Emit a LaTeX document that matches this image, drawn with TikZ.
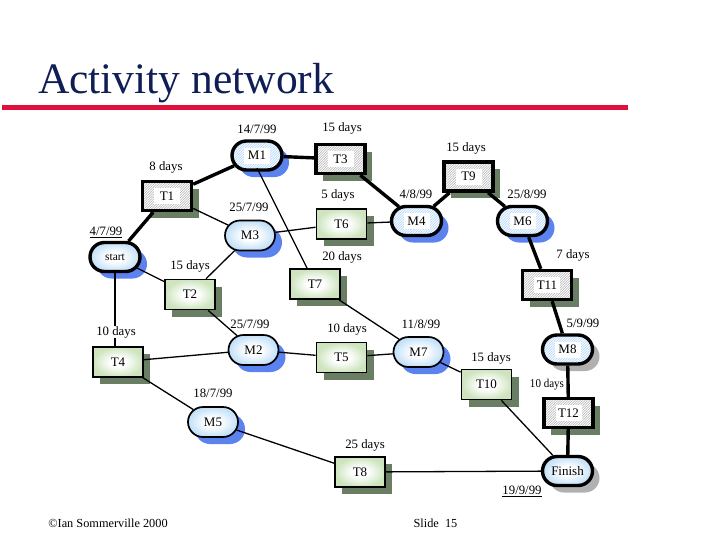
\documentclass[tikz,border=0pt]{standalone}
\usepackage{fontspec}
\setmainfont{Liberation Serif}
\usetikzlibrary{shapes.misc,shadows,patterns}
\definecolor{shblue}{RGB}{92,130,240}
\definecolor{shgreen}{RGB}{106,126,100}
\definecolor{shgrey}{RGB}{176,176,176}
\definecolor{rulered}{RGB}{225,15,60}
\definecolor{titlenavy}{RGB}{15,30,85}
\definecolor{palegreen}{RGB}{205,228,190}
\definecolor{paleblue}{RGB}{194,224,248}
\pgfdeclareradialshading{softgreen}{\pgfpoint{0bp}{0bp}}{color(0bp)=(white);color(8bp)=(white);color(25bp)=(palegreen);color(50bp)=(palegreen)}
\pgfdeclareradialshading{softblue}{\pgfpoint{0bp}{0bp}}{color(0bp)=(white);color(8bp)=(white);color(25bp)=(paleblue);color(50bp)=(paleblue)}
\pgfdeclarepatternformonly{finehatch}{\pgfqpoint{-.5pt}{-.5pt}}{\pgfqpoint{3pt}{3pt}}{\pgfqpoint{2.5pt}{2.5pt}}{\pgfsetlinewidth{.5pt}\pgfpathmoveto{\pgfqpoint{0pt}{0pt}}\pgfpathlineto{\pgfqpoint{2.5pt}{2.5pt}}\pgfusepath{stroke}}
\begin{document}
\begin{tikzpicture}
      [x=1pt,y=-1pt,
      lbl/.style={font=\fontsize{12.8}{14}\selectfont,inner sep=0pt},
      foot/.style={font=\fontsize{12.3}{14}\selectfont,inner sep=0pt},
      nodefont/.style={font=\fontsize{13}{14}\selectfont,inner sep=0pt},
      shb/.style={drop shadow={shadow xshift=7pt,shadow yshift=-7pt,fill=shblue,opacity=1}},
      shn/.style={drop shadow={shadow xshift=7pt,shadow yshift=-7pt,fill=shgreen,opacity=1}},
      shg/.style={drop shadow={shadow xshift=7pt,shadow yshift=-7pt,fill=shgrey,opacity=1}},
      whitecentre/.style={path picture={\fill[white] ([shift={(-13,-8)}]path picture bounding box.center) rectangle ([shift={(13,8)}]path picture bounding box.center);}},
      task/.style={shn,rectangle,draw,line width=1.7pt,minimum width=50pt,minimum height=30pt,nodefont,shading=softgreen},
      ctask/.style={shn,rectangle,draw,line width=3.4pt,minimum width=49pt,minimum height=29pt,nodefont,
        preaction={fill=white},pattern=finehatch,pattern color=black!30,whitecentre},
      mile/.style={rounded rectangle,draw,line width=1.7pt,minimum width=50pt,minimum height=30pt,nodefont,shading=softblue},
      cmile/.style={rounded rectangle,draw,line width=3.4pt,minimum width=50pt,minimum height=29pt,nodefont,shading=softblue},
      hmile/.style={rounded rectangle,draw,line width=3.4pt,minimum width=50pt,minimum height=29pt,nodefont,
        preaction={fill=white},pattern=finehatch,pattern color=blue!50!cyan!35,whitecentre},
      thin line/.style={line width=1.3pt},
      crit/.style={line width=3.4pt}]
      \useasboundingbox (0,0) rectangle (717,538);
      \node[titlenavy](title) at (186,83) {\fontsize{43.5}{48}\selectfont Activity network};
      \coordinate(ruleL) at (2,107);
      \coordinate(ruleR) at (628,107);
      \draw[rulered,line width=5pt](ruleL) -- (ruleR);
      \node[shb,hmile](M1) at (257,155.5) {M1};
      \node[ctask](T3) at (340.5,159) {T3};
      \node[ctask](T1) at (167,196) {T1};
      \node[shb,mile](M3) at (250,235.5) {M3};
      \node[task](T6) at (341.5,224) {T6};
      \node[shb,cmile](start) at (115,257) {\fontsize{11.5}{14}\selectfont start};
      \node[task](T2) at (190,294.5) {T2};
      \node[task](T7) at (315,284) {T7};
      \node[ctask](T9) at (468.5,176.5) {T9};
      \node[shb,hmile](M4) at (416.5,221) {M4};
      \node[shb,hmile](M6) at (522.5,221) {M6};
      \node[ctask](T11) at (547,285) {T11};
      \node[shb,mile](M2) at (253.5,350) {M2};
      \node[task](T4) at (118,362) {T4};
      \node[task](T5) at (341.5,357.5) {T5};
      \node[shb,mile](M5) at (213,422) {M5};
      \node[task](T8) at (360,472) {T8};
      \node[shb,mile](M7) at (418.5,352) {M7};
      \node[task](T10) at (486.5,384.5) {T10};
      \node[shg,hmile](M8) at (567.5,349.5) {M8};
      \node[ctask](T12) at (568.5,413) {T12};
      \node[shg,cmile](Finish) at (567.5,471) {Finish};
      \coordinate(M1in) at (257,168);
      \draw[crit](start) -- (T1);
      \draw[crit](T1) -- (M1);
      \draw[crit](M1) -- (T3);
      \draw[crit](T3) -- (M4);
      \draw[crit](M4) -- (T9);
      \draw[crit](T9) -- (M6);
      \draw[crit](M6) -- (T11);
      \draw[crit](T11) -- (M8);
      \draw[crit](M8) -- (T12);
      \draw[crit](T12) -- (Finish);
      \draw[thin line](start) -- (T2);
      \draw[thin line](start.south) -- (start.south |- T4.north);
      \draw[thin line](T1) -- (M3);
      \draw[thin line](T2) -- (M3);
      \draw[thin line](T2) -- (M2);
      \draw[thin line](M1in) -- (T7);
      \draw[thin line](T7) -- (M7);
      \draw[thin line](M3) -- (T6);
      \draw[thin line](T6) -- (M4);
      \draw[thin line](T4) -- (M2);
      \draw[thin line](M2) -- (T5);
      \draw[thin line](T5) -- (M7);
      \draw[thin line](T4) -- (M5);
      \draw[thin line](M5) -- (T8);
      \draw[thin line](T8) -- (Finish);
      \draw[thin line](M7) -- (T10);
      \draw[thin line](T10) -- (Finish);
      \node[lbl](dateM1) at (257,129) {14/7/99};
      \node[lbl](daysT3) at (342,128) {15 days};
      \node[lbl](daysT1) at (166,167) {8 days};
      \node[lbl](daysT6) at (338,195) {5 days};
      \node[lbl](dateM3) at (249,207) {25/7/99};
      \node[lbl](daysT7) at (342,257) {20 days};
      \node[lbl](datestart) at (106,232) {\underline{4/7/99}};
      \node[lbl](daysT2) at (190,266) {15 days};
      \node[lbl](daysT9) at (466,148) {15 days};
      \node[lbl](dateM4) at (416,194) {4/8/99};
      \node[lbl](dateM6) at (527,194) {25/8/99};
      \node[lbl](daysT11) at (573,255) {7 days};
      \node[lbl](dateM8) at (583,323) {5/9/99};
      \node[lbl](dateM7) at (421,324) {11/8/99};
      \node[lbl](dateM2) at (250,324) {25/7/99};
      \node[lbl,fill=white](daysT4) at (116,332) {10 days};
      \node[lbl](daysT5) at (347,329) {10 days};
      \node[lbl](dateM5) at (213,393) {18/7/99};
      \node[lbl](daysT8) at (365,445) {25 days};
      \node[lbl](daysT10) at (491,358) {15 days};
      \node[lbl,font=\fontsize{12}{14}\selectfont,xscale=.92](daysT12) at (547,385) {10 days};
      \node[lbl](dateFinish) at (522,491) {\underline{19/9/99}};
      \node[foot](copy) at (108,523) {©Ian Sommerville 2000};
      \node[foot](slide) at (435.5,523) {Slide\ \ 15};
  \end{tikzpicture}
\end{document}
